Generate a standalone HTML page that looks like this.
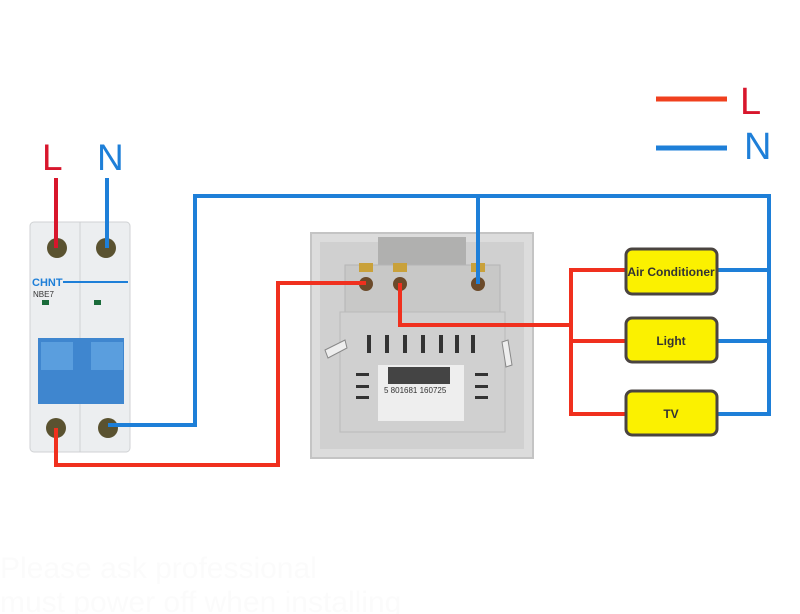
<!DOCTYPE html>
<html><head><meta charset="utf-8"><style>
html,body{margin:0;padding:0;background:#fff;}
svg{display:block}
text{font-family:"Liberation Sans",sans-serif}
</style></head><body>
<svg width="800" height="614" viewBox="0 0 800 614" xmlns="http://www.w3.org/2000/svg">
<rect width="800" height="614" fill="#fff"/>
<line x1="656" y1="99" x2="727" y2="99" stroke="#f0401e" stroke-width="5"/>
<text x="740" y="114" font-size="38" fill="#d8162c">L</text>
<line x1="656" y1="148" x2="727" y2="148" stroke="#1e7fd8" stroke-width="5"/>
<text x="744" y="159" font-size="38" fill="#1e7fd8">N</text>
<text x="42" y="170" font-size="37" fill="#d8162c">L</text>
<text x="97" y="170" font-size="37" fill="#1e7fd8">N</text>

<g>
<rect x="311" y="233" width="222" height="225" fill="#dcdcdc" stroke="#c4c4c4" stroke-width="2"/>
<rect x="320" y="242" width="204" height="207" fill="#d0d0d0"/>
<rect x="378" y="237" width="88" height="30" fill="#b0b0af"/>
<rect x="345" y="265" width="155" height="50" fill="#c8c8c7" stroke="#b5b5b5"/>
<rect x="340" y="312" width="165" height="120" fill="#d0d0d0" stroke="#bababa"/>
<rect x="378" y="365" width="86" height="56" fill="#eeeeee"/>
<g fill="#333">
<rect x="367" y="335" width="4" height="18"/><rect x="385" y="335" width="4" height="18"/><rect x="403" y="335" width="4" height="18"/><rect x="421" y="335" width="4" height="18"/><rect x="439" y="335" width="4" height="18"/><rect x="455" y="335" width="4" height="18"/><rect x="471" y="335" width="4" height="18"/>
<rect x="356" y="373" width="13" height="3"/><rect x="356" y="385" width="13" height="3"/><rect x="356" y="396" width="13" height="3"/>
<rect x="475" y="373" width="13" height="3"/><rect x="475" y="385" width="13" height="3"/><rect x="475" y="396" width="13" height="3"/>
</g>
<rect x="388" y="367" width="62" height="17" fill="#444"/>
<text x="384" y="393" font-size="8" fill="#333">5 801681 160725</text>
<path d="M325 350 L345 340 L347 348 L328 358Z" fill="#eee" stroke="#888"/>
<path d="M502 342 L508 340 L512 365 L506 367Z" fill="#eee" stroke="#888"/>
<circle cx="366" cy="284" r="7" fill="#6b4a2a"/><circle cx="400" cy="284" r="7" fill="#6b4a2a"/><circle cx="478" cy="284" r="7" fill="#6b4a2a"/>
<rect x="359" y="263" width="14" height="9" fill="#c9a13a"/><rect x="393" y="263" width="14" height="9" fill="#c9a13a"/><rect x="471" y="263" width="14" height="9" fill="#c9a13a"/>
</g>

<g>
<rect x="30" y="222" width="100" height="230" rx="4" fill="#eceef0" stroke="#d0d2d4"/>
<line x1="80" y1="222" x2="80" y2="452" stroke="#cfd1d3"/>
<circle cx="57" cy="248" r="10" fill="#5a5230"/><circle cx="106" cy="248" r="10" fill="#5a5230"/>
<text x="32" y="286" font-size="11" font-weight="bold" fill="#1e7fd8">CHNT</text>
<line x1="63" y1="282" x2="128" y2="282" stroke="#1e7fd8" stroke-width="2"/>
<text x="33" y="297" font-size="8" fill="#333">NBE7</text>
<rect x="42" y="300" width="7" height="5" fill="#1a6b3a"/><rect x="94" y="300" width="7" height="5" fill="#1a6b3a"/>
<rect x="38" y="338" width="86" height="66" fill="#3f86cf"/>
<rect x="41" y="342" width="32" height="28" fill="#5a9ede"/><rect x="91" y="342" width="32" height="28" fill="#5a9ede"/>
<circle cx="56" cy="428" r="10" fill="#5a5230"/><circle cx="108" cy="428" r="10" fill="#5a5230"/>
</g>

<g fill="none" stroke-width="4" stroke-linejoin="miter">
<path d="M107 178 V248" stroke="#1e7fd8"/>
<path d="M56 178 V248" stroke="#d8162c"/>
<path d="M108 425 H195 V196 H769 V414 H717 M769 270 H717 M769 341 H717 M478 196 V284" stroke="#1e7fd8"/>
<path d="M56 428 V465 H278 V283 H366" stroke="#f0301e"/>
<path d="M400 283 V325 H571 M571 268 V414 H625 M571 270 H625 M571 341 H625" stroke="#f0301e"/>
</g>

<g stroke="#4a4440" stroke-width="3" fill="#fbf100">
<rect x="626" y="249" width="91" height="45" rx="6"/>
<rect x="626" y="318" width="91" height="44" rx="6"/>
<rect x="626" y="391" width="91" height="44" rx="6"/>
</g>
<g font-size="12" font-weight="bold" fill="#333" text-anchor="middle">
<text x="671" y="276">Air Conditioner</text>
<text x="671" y="345">Light</text>
<text x="671" y="418">TV</text>
</g>
<g fill="#fbfbfb" font-size="30">
<text x="0" y="578">Please ask professional</text>
<text x="0" y="612">must power off when installing</text>
</g>
</svg>
</body></html>
